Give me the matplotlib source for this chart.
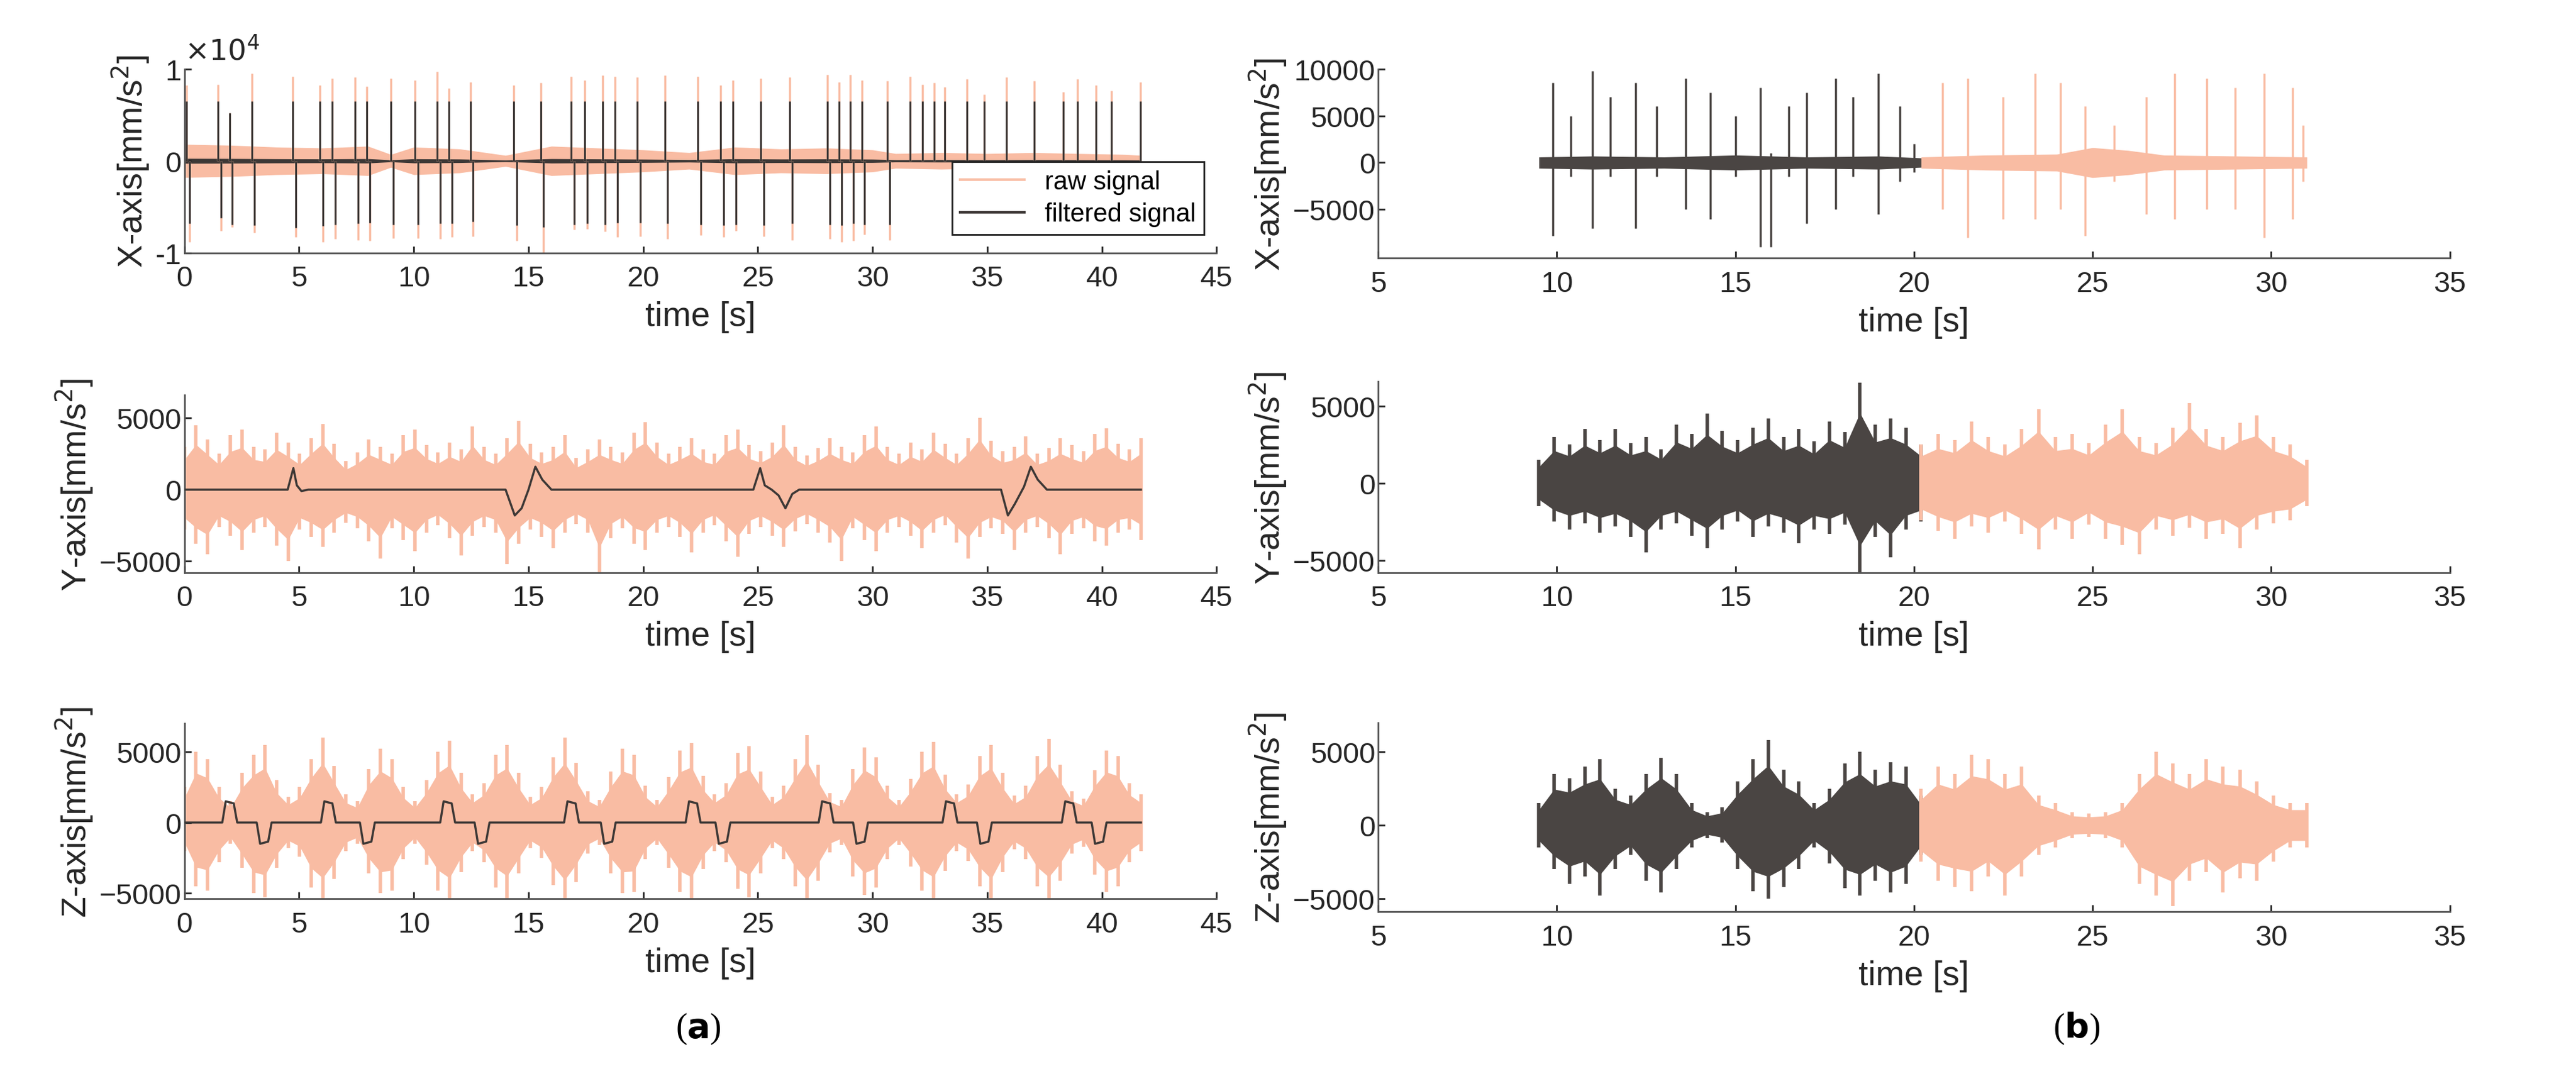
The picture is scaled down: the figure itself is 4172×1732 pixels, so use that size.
import numpy as np
import matplotlib
matplotlib.use("Agg")
import matplotlib.pyplot as plt

PINK = "#f9bca3"
DARK = "#3d3836"
DARK2 = "#4a4543"

# ---------------- Data ----------------
lx_spike_t = [0.1,1.47,1.97,2.94,4.73,5.91,6.45,7.45,7.95,8.99,10.06,11.03,11.53,12.46,14.36,
              15.54,16.87,17.44,18.23,18.77,19.74,20.95,22.38,23.38,23.92,25.13,26.38,28.03,
              28.53,29.03,29.53,30.64,31.64,32.18,32.68,33.15,34.11,34.87,35.84,37.05,38.31,
              38.92,39.74,40.42,41.67]
lx_raw_up = [8200,8300,5200,9500,9200,8200,9000,9100,8100,9000,8800,9700,7900,8600,8200,
             8500,9200,8800,9300,9200,9100,9300,9200,8200,8800,9000,9100,9400,8600,9400,
             8800,8700,9200,8300,8500,8000,8900,7200,9100,8700,7500,8900,8200,7600,8600]
lx_filt_up = [6500,6500,5200,6500,6500,6500,6500,6500,6500,6500,6500,6500,6500,6500,6500,
              6500,6500,6500,6500,6500,6500,6500,6500,6500,6500,6500,6500,6500,6500,6500,
              6500,6500,6500,6500,6500,6500,6500,6500,6500,6500,6500,6500,6500,6500,6500]
lx_raw_dn = [-8800,-7600,-7200,-7800,-8300,-8800,-8500,-8600,-8700,-8400,-8400,-8500,-8300,-8200,-8700,
             -10000,-7500,-7400,-7700,-8300,-8200,-8500,-8100,-8300,-7600,-8200,-8600,-8500,-8800,-8700,
             -8000,-8600]
lx_filt_dn = [-6800,-6200,-6900,-7000,-7300,-7100,-6900,-6800,-6700,-6900,-6900,-6800,-6800,-6600,-7000,
              -7200,-6900,-6800,-6900,-6700,-6700,-6800,-6900,-7000,-6900,-7000,-6800,-6900,-7000,-6800,
              -6900,-6900]
lx_env_t = [0, 2, 4, 6, 8, 9, 10, 12, 14, 16, 18, 20, 22, 24, 26, 28, 30, 31, 33, 35, 37, 39, 41, 41.7]
lx_env = [1800, 1700, 1500, 1400, 1600, 700, 1500, 1300, 600, 1600, 1400, 1200, 900, 1500,
          1300, 1400, 1200, 800, 900, 800, 900, 800, 700, 600]

ly_up = [3000,4500,3500,2500,3800,4200,3000,2800,4000,3300,2500,3600,4600,3200,2000,2600,3500,3000,
         2500,3800,4200,3100,2600,3300,2800,4400,3000,2500,3600,4800,3200,2600,3000,3800,2200,2800,
         3500,3000,2600,4000,4700,3300,2500,3000,3600,2800,2500,3800,4200,3100,2700,3300,4500,3000,
         2400,2900,3600,3000,2600,3800,4400,3000,2500,3300,2800,4000,3200,2500,3600,5000,3400,2700,
         3000,3700,2500,2900,3600,3100,2700,3900,4300,3200,2800,3600]
ly_lo = [-2800,-3800,-4500,-2600,-3200,-4200,-3000,-2600,-3900,-5000,-2800,-3300,-4000,-3000,-2300,
         -2700,-3600,-4800,-2700,-3500,-4300,-3000,-2500,-3400,-4600,-3200,-2600,-3000,-5200,-3800,
         -2800,-3300,-4100,-3000,-2400,-3000,-5800,-3400,-2700,-3800,-4200,-3000,-2600,-3300,-4400,
         -3000,-2500,-3600,-4700,-3100,-2600,-3200,-4000,-2900,-2400,-3000,-3700,-5000,-2700,-3500,
         -4300,-3000,-2600,-3200,-4100,-3000,-2500,-3700,-4800,-3300,-2700,-3100,-4200,-3000,-2600,
         -3400,-4500,-3100,-2700,-3600,-3900,-3000,-2800,-3500]
ly_filt_t = [0,4.5,4.75,4.9,5.1,5.4,14.0,14.4,14.7,15.0,15.3,15.6,16.0,24.8,25.1,25.3,25.6,
             25.9,26.2,26.5,26.8,35.6,35.9,36.2,36.6,36.9,37.2,37.6,41.7]
ly_filt = [0,0,1500,300,-100,0,0,-1800,-1300,0,1600,700,0,0,1500,300,0,-400,-1300,-300,0,
           0,-1800,-1000,200,1600,700,0,0]

lz_up = [2500,5000,4500,2500,1500,3500,4800,5500,3000,1800,2500,4500,6000,4000,2000,1500,3800,5200,
         4500,2500,1500,3000,5000,5800,3500,2000,2800,4800,5500,3500,1800,2500,4600,6000,4200,2200,
         1600,3600,5200,4800,2600,1600,3200,5100,5600,3300,2000,2800,4900,5400,3600,1800,2600,4500,
         6200,4100,2100,1600,3800,5300,4600,2600,1600,3100,5000,5700,3400,2000,2700,4700,5500,3500,
         1900,2600,4700,5900,4100,2200,1700,3700,5100,4700,2800,2000]
lz_lo = [-2000,-4500,-4800,-2800,-1500,-3200,-5000,-5300,-3200,-1800,-2400,-4600,-5600,-4000,-2000,
         -1500,-3600,-5000,-4800,-2600,-1500,-3000,-4800,-5600,-3500,-2000,-2800,-4600,-5400,-3600,
         -1800,-2500,-4400,-5800,-4200,-2200,-1600,-3600,-5000,-4900,-2600,-1600,-3200,-4900,-5500,
         -3300,-2000,-2800,-4700,-5300,-3600,-1800,-2600,-4500,-5800,-4100,-2100,-1600,-3800,-5100,
         -4600,-2600,-1600,-3100,-4800,-5500,-3400,-2000,-2700,-4500,-5700,-3500,-1900,-2600,-4500,
         -5500,-4100,-2200,-1700,-3700,-4900,-4500,-2800,-2000]
lz_pulse_t = [1.8, 3.3, 6.1, 7.8, 11.3, 12.8, 16.7, 18.3, 22.0, 23.3, 27.8, 29.3, 33.2, 34.7, 38.4, 39.7]
lz_pulse_a = [1500, -1500, 1500, -1500, 1500, -1500, 1500, -1500, 1500, -1500, 1500, -1500, 1500, -1500, 1500, -1500]

rx_dark_t = [9.9,10.4,11.0,11.5,12.2,12.8,13.6,14.3,15.0,15.7,16.0,16.5,17.0,17.8,18.3,19.0,19.6,20.0]
rx_dark_up = [8500,5000,9800,7000,8500,6000,9000,7500,5000,8000,1000,6000,7500,9000,7000,9500,6000,2000]
rx_dark_dn = [-7800,-1500,-7000,-1500,-7000,-1500,-5000,-6000,-1500,-9000,-9000,-1500,-6500,-5000,-1500,-5500,-2000,-1000]
rx_pink_t = [20.8,21.5,22.5,23.4,24.1,24.8,25.6,26.5,27.3,28.2,29.0,29.8,30.6,30.9]
rx_pink_up = [8500,9000,7000,9500,8500,6000,4000,7000,9500,9000,8000,9500,8000,4000]
rx_pink_dn = [-5000,-8000,-6000,-6000,-5000,-7800,-2000,-5500,-6000,-5000,-5000,-8000,-6000,-2000]
rx_dark_env_t = [9.5, 11, 13, 15, 17, 19, 20.2]
rx_dark_env = [600, 700, 600, 800, 600, 700, 500]
rx_pink_env_t = [20.2, 22, 24, 25, 26, 27, 29, 31]
rx_pink_env = [600, 800, 900, 1600, 1300, 800, 700, 600]

ry_dark_up = [1500,3000,2500,3500,2800,3500,2600,3000,2200,3800,3200,4500,3400,2800,3600,
              4200,3000,3500,2700,4000,3300,6500,3800,4200,3600,2500]
ry_dark_lo = [-1500,-2500,-3000,-2600,-3200,-2800,-3500,-4500,-3000,-2600,-3400,-4200,-3000,
              -2500,-3500,-2800,-3200,-3900,-3000,-3300,-2700,-5800,-3500,-4800,-3000,-2500]
ry_pink_up = [2500,3200,2800,4000,3000,2500,3500,4800,3000,3200,2600,3800,4800,3000,2600,
              3600,5200,3500,3000,3900,4400,3000,2500,1500]
ry_pink_lo = [-2400,-3100,-3600,-2800,-3200,-2500,-3300,-4300,-3000,-3600,-2700,-3600,-4000,
              -4600,-3000,-3400,-2900,-3600,-3300,-4200,-3000,-2600,-2400,-1500]

rz_dark_up = [1500,3500,3200,4000,4500,2500,2000,3500,4600,3500,1500,900,1200,3000,4500,
              5800,3800,3000,1500,2500,4200,5000,3800,4300,4000,2000]
rz_dark_lo = [-1500,-3000,-4000,-3500,-4800,-3000,-2000,-3800,-4600,-3000,-1500,-900,-1200,
              -3000,-4500,-5000,-4200,-3000,-1500,-2600,-4300,-4800,-3800,-4600,-4000,-2000]
rz_pink_up = [2500,4000,3500,4800,4500,3500,4000,2000,1500,900,800,900,1500,3500,5000,
              4200,3500,4500,4000,3800,3000,2000,1500,1500]
rz_pink_lo = [-2500,-3800,-4200,-4500,-3500,-4800,-3500,-2000,-1500,-900,-800,-900,-1500,
              -4000,-4800,-5500,-3800,-3200,-4600,-3600,-3800,-2500,-1500,-1500]

# ---------------- Figure ----------------
FS_T = 34
FS_L = 40
TICKC = "#262626"
plt.rcParams["font.family"] = "Liberation Sans"
fig = plt.figure(figsize=(41.72, 17.33), dpi=100)

def style(ax, xlim, xticks):
    ax.set_xlim(*xlim)
    ax.set_xticks(xticks)
    for s in ["top", "right"]:
        ax.spines[s].set_visible(False)
    for s in ["left", "bottom"]:
        ax.spines[s].set_color("#555555")
        ax.spines[s].set_linewidth(2)
    ax.tick_params(labelsize=FS_T, colors=TICKC, width=2, length=8, direction="in")
    ax.tick_params(axis="x", pad=14)
    ax.set_xlabel("time [s]", fontsize=FS_L, color=TICKC, labelpad=10)

def ribbon(ax, t0, t1, up, lo, color, z=1):
    t = np.linspace(t0, t1, len(up))
    ax.fill_between(t, [v * 0.7 for v in lo], [v * 0.7 for v in up], color=color, lw=0, zorder=z)
    ax.vlines(t, lo, up, color=color, lw=4, zorder=z)

L = 0.0716; LW = 0.4007
R = 0.535; RW = 0.416
ax1 = fig.add_axes([L, 0.763, LW, 0.172])
ax2 = fig.add_axes([L, 0.464, LW, 0.166])
ax3 = fig.add_axes([L, 0.159, LW, 0.164])
bx1 = fig.add_axes([R, 0.758, RW, 0.177])
bx2 = fig.add_axes([R, 0.464, RW, 0.179])
bx3 = fig.add_axes([R, 0.147, RW, 0.177])

lt = list(range(0, 46, 5))
rt = list(range(5, 36, 5))

# Left X
ax1.fill_between(lx_env_t, [-v for v in lx_env], lx_env, color=PINK, lw=0)
ax1.vlines(lx_spike_t, 0, lx_raw_up, color=PINK, lw=2.5)
ax1.vlines([t + 0.12 for t in lx_spike_t[:len(lx_raw_dn)]], lx_raw_dn, 0, color=PINK, lw=2.5)
ax1.fill_between(lx_env_t, [-v * 0.15 for v in lx_env], [v * 0.15 for v in lx_env], color=DARK, lw=0)
ax1.vlines(lx_spike_t, 0, lx_filt_up, color=DARK, lw=2.2)
ax1.vlines([t + 0.12 for t in lx_spike_t[:len(lx_filt_dn)]], lx_filt_dn, 0, color=DARK, lw=2.2)
ax1.plot([], [], color=PINK, lw=3, label="raw signal")
ax1.plot([], [], color=DARK, lw=3, label="filtered signal")
ax1.set_ylim(-1e4, 1e4)
ax1.set_yticks([-1e4, 0, 1e4])
ax1.set_yticklabels(["-1", "0", "1"])
ax1.text(0.0, 1.05, r"$\times10^4$", transform=ax1.transAxes, fontsize=FS_T, color=TICKC)
leg = ax1.legend(loc="lower right", bbox_to_anchor=(1.0, 0.03), fontsize=FS_T - 4, frameon=True,
                 fancybox=False, edgecolor="#222222", framealpha=1, handlelength=2.5,
                 borderpad=0.3, labelspacing=0.3)
leg.get_frame().set_linewidth(2)
leg.set_zorder(10)
style(ax1, (0, 45), lt)
ax1.set_ylabel("X-axis[mm/s$^2$]", fontsize=FS_L, color=TICKC)

# Left Y
ribbon(ax2, 0, 41.7, ly_up, ly_lo, PINK)
ax2.plot(ly_filt_t, ly_filt, color=DARK, lw=2.5, zorder=3)
ax2.set_ylim(-5800, 6600)
ax2.set_yticks([-5000, 0, 5000])
style(ax2, (0, 45), lt)
ax2.set_ylabel("Y-axis[mm/s$^2$]", fontsize=FS_L, color=TICKC)

# Left Z
ribbon(ax3, 0, 41.7, lz_up, lz_lo, PINK)
zt = [0.0]; za = [0.0]
for t, a in zip(lz_pulse_t, lz_pulse_a):
    zt += [t - 0.15, t, t + 0.35, t + 0.5]
    za += [0, a, a * 0.9, 0]
zt.append(41.7); za.append(0)
ax3.plot(zt, za, color=DARK, lw=2.5, zorder=3)
ax3.set_ylim(-5400, 7000)
ax3.set_yticks([-5000, 0, 5000])
style(ax3, (0, 45), lt)
ax3.set_ylabel("Z-axis[mm/s$^2$]", fontsize=FS_L, color=TICKC)

# Right X
bx1.fill_between(rx_dark_env_t, [-v for v in rx_dark_env], rx_dark_env, color=DARK2, lw=0)
bx1.vlines(rx_dark_t, rx_dark_dn, rx_dark_up, color=DARK2, lw=2.5)
bx1.fill_between(rx_pink_env_t, [-v for v in rx_pink_env], rx_pink_env, color=PINK, lw=0)
bx1.vlines(rx_pink_t, rx_pink_dn, rx_pink_up, color=PINK, lw=2.5)
bx1.set_ylim(-10200, 10000)
bx1.set_yticks([-5000, 0, 5000, 10000])
style(bx1, (5, 35), rt)
bx1.set_ylabel("X-axis[mm/s$^2$]", fontsize=FS_L, color=TICKC)

# Right Y
ribbon(bx2, 9.5, 20.2, ry_dark_up, ry_dark_lo, DARK2)
ribbon(bx2, 20.2, 31.0, ry_pink_up, ry_pink_lo, PINK)
bx2.set_ylim(-5800, 6600)
bx2.set_yticks([-5000, 0, 5000])
style(bx2, (5, 35), rt)
bx2.set_ylabel("Y-axis[mm/s$^2$]", fontsize=FS_L, color=TICKC)

# Right Z
ribbon(bx3, 9.5, 20.2, rz_dark_up, rz_dark_lo, DARK2)
ribbon(bx3, 20.2, 31.0, rz_pink_up, rz_pink_lo, PINK)
bx3.set_ylim(-5900, 7000)
bx3.set_yticks([-5000, 0, 5000])
style(bx3, (5, 35), rt)
bx3.set_ylabel("Z-axis[mm/s$^2$]", fontsize=FS_L, color=TICKC)

fig.text(0.271, 0.03, r"($\mathbf{a}$)", fontsize=FS_L, ha="center", family="Liberation Serif")
fig.text(0.806, 0.03, r"($\mathbf{b}$)", fontsize=FS_L, ha="center", family="Liberation Serif")

fig.savefig("out.png", dpi=100)
